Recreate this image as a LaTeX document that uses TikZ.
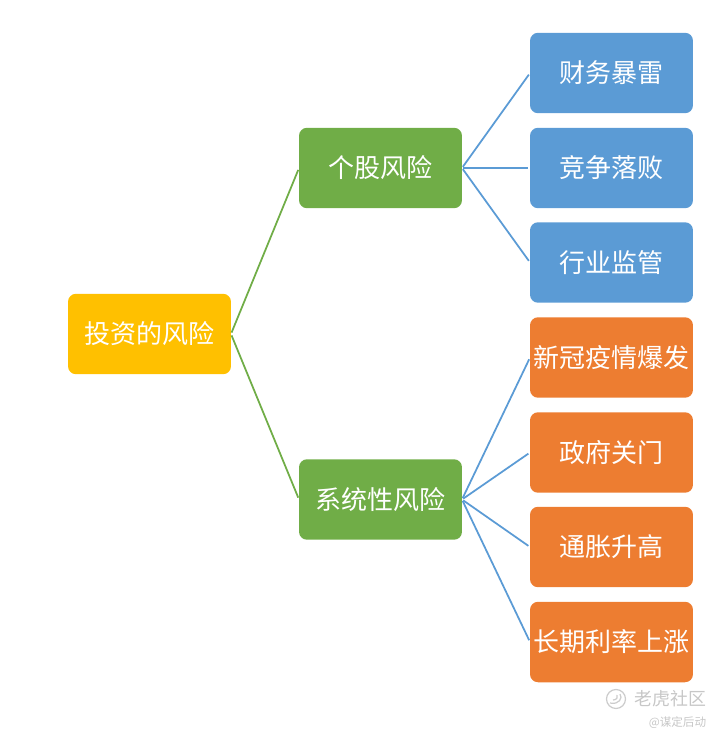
\documentclass[tikz,border=0pt]{standalone}
\usepackage{fontspec}
\setmainfont{Noto Sans CJK SC}
\definecolor{boxyellow}{HTML}{FFC000}
\definecolor{boxgreen}{HTML}{70AD47}
\definecolor{boxblue}{HTML}{5B9BD5}
\definecolor{boxorange}{HTML}{ED7D31}
\begin{document}
\begin{tikzpicture}[x=0.02cm,y=-0.02cm]
	\tikzstyle{mybox}=[rounded corners=0.16cm,minimum width=3.26cm,minimum height=1.61cm,inner sep=0pt,outer sep=0pt,text=white,text height=12pt,text depth=1pt,font=\fontsize{14.8pt}{16pt}\selectfont]
	\tikzstyle{myyellow}=[mybox,fill=boxyellow]
	\tikzstyle{mygreen}=[mybox,fill=boxgreen]
	\tikzstyle{myblue}=[mybox,fill=boxblue]
	\tikzstyle{myorange}=[mybox,fill=boxorange]
	\tikzstyle{myline}=[line width=1pt,shorten <=1.5*0.02cm,shorten >=2*0.02cm]
	\tikzstyle{mymark}=[text=black!22,inner sep=0pt]

	\useasboundingbox (0,0) rectangle (720,740);

	\node[myyellow] (risk) at (149.5,334) {投资的风险};
	\node[mygreen] (stock) at (380.5,168) {个股风险};
	\node[mygreen] (market) at (380.5,499.5) {系统性风险};

	\foreach \y / \n / \t in {73/a/财务暴雷,168/b/竞争落败,262.5/c/行业监管} {
		\node[myblue] (leaf\n) at (611.5,\y) {\t};
		\draw[myline,boxblue] (stock.east) -- (leaf\n.west);
	}
	\foreach \y / \n / \t in {357.5/d/新冠疫情爆发,452.5/e/政府关门,547/f/通胀升高,642/g/长期利率上涨} {
		\node[myorange] (leaf\n) at (611.5,\y) {\t};
		\draw[myline,boxblue] (market.east) -- (leaf\n.west);
	}

	\draw[myline,boxgreen] (risk.east) -- (stock.west);
	\draw[myline,boxgreen] (risk.east) -- (market.west);

	% watermark
	\node[mymark,font=\fontsize{10.2pt}{12pt}\selectfont] (tiger) at (670.5,699) {老虎社区};
	\node[mymark,font=\fontsize{6.6pt}{8pt}\selectfont] (author) at (677.5,723) {@谋定后动};
	\node[circle,draw=black!20,line width=0.7pt,minimum size=0.38cm,inner sep=0pt] (logo) at (616,699) {};
	\draw[black!20,line width=0.7pt] (610,703) .. controls (619,705) and (623,698) .. (620,694);
	\draw[black!20,line width=0.7pt] (613,700) .. controls (617,700) and (618,697) .. (617,695);
\end{tikzpicture}
\end{document}
